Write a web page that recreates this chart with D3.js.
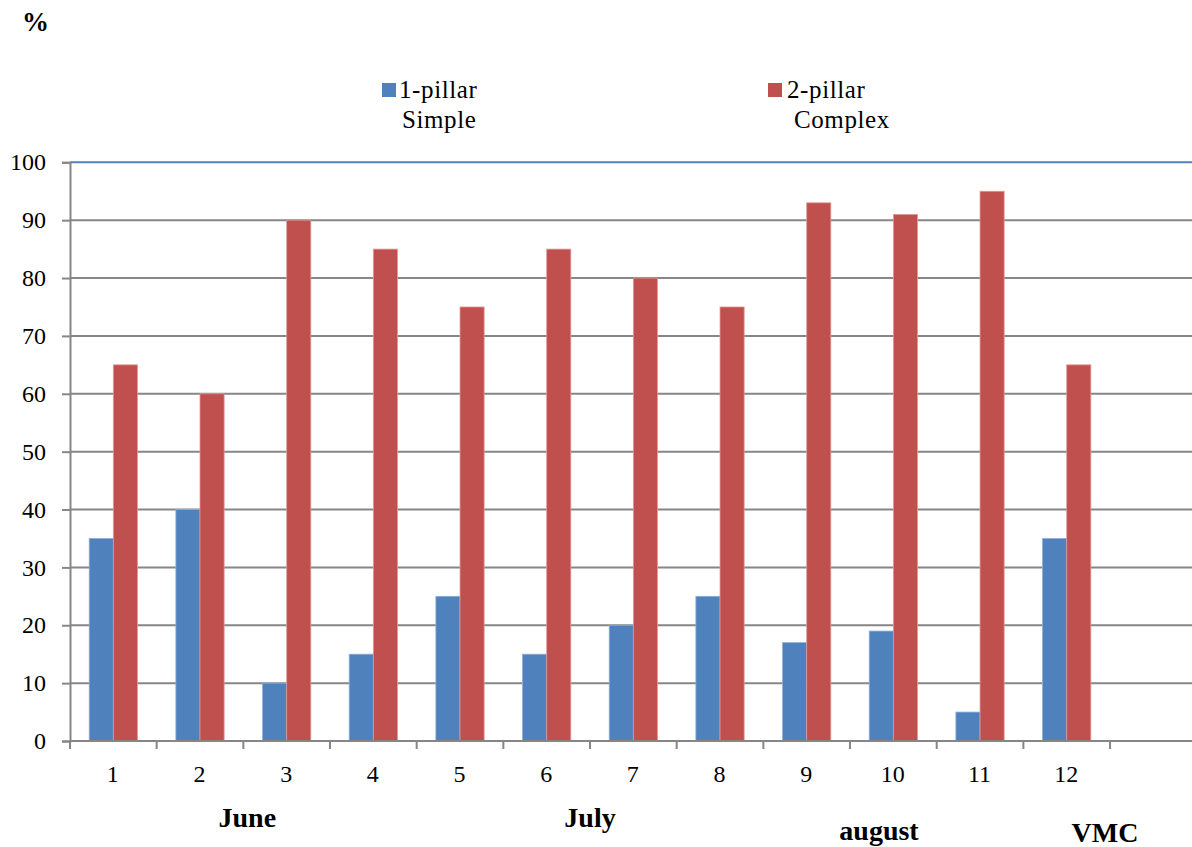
<!DOCTYPE html>
<html>
<head>
<meta charset="utf-8">
<script src="https://cdn.jsdelivr.net/npm/d3@7/dist/d3.min.js"></script>
<style>
  html, body { margin: 0; padding: 0; background: #fff; }
  svg { display: block; }
  text { font-family: "Liberation Serif", "Times New Roman", serif; fill: #000; }
</style>
</head>
<body>
<svg id="chart" width="1192" height="847"></svg>
<script>
// ---- data ----
const categories = ["1", "2", "3", "4", "5", "6", "7", "8", "9", "10", "11", "12", ""];
const simpleValues = [35, 40, 10, 15, 25, 15, 20, 25, 17, 19, 5, 35];
const complexValues = [65, 60, 90, 85, 75, 85, 80, 75, 93, 91, 95, 65];
const seriesNames = ["1-pillar Simple", "2-pillar Complex"];
const yTicks = [0, 10, 20, 30, 40, 50, 60, 70, 80, 90, 100];
const periodLabels = ["June", "July", "august", "VMC"];

// ---- layout ----
const svg = d3.select("#chart");
const plotLeft = 70, plotRight = 70 + 13 * 86.67, plotTop = 162.3, plotBottom = 741;
const colors = { simple: "#4F81BD", complex: "#C0504D" };
const strokes = { simple: "#8FAEDA", complex: "#E09A98" };

const x = d3.scaleBand().domain(categories).range([plotLeft, plotRight]).paddingInner(0).paddingOuter(0);
const xSub = d3.scaleBand().domain(["simple", "complex"])
  .range([19.2, x.bandwidth() - 19.2]).paddingInner(0);
const y = d3.scaleLinear().domain([0, 100]).range([plotBottom, plotTop]);

// gridlines
svg.append("g").selectAll("line").data(yTicks.filter(t => t > 0)).join("line")
  .attr("x1", plotLeft).attr("x2", plotRight)
  .attr("y1", d => y(d)).attr("y2", d => y(d))
  .attr("stroke", d => d === 100 ? "#4F81BD" : "#868686")
  .attr("stroke-width", 2);

// y axis
const yAxis = d3.axisLeft(y).tickValues(yTicks).tickSize(8).tickPadding(16);
const gy = svg.append("g").attr("transform", `translate(${plotLeft},0)`).call(yAxis);
gy.select(".domain").attr("stroke", "#868686").attr("stroke-width", 2);
gy.selectAll(".tick line").attr("stroke", "#868686").attr("stroke-width", 2);
gy.selectAll(".tick text").style("font-family", "Liberation Serif").style("font-size", "24px").attr("fill", "#000");

// bars
const rows = categories.slice(0, 12).map((c, i) => ({ c, simple: simpleValues[i], complex: complexValues[i] }));
const groups = svg.append("g").selectAll("g").data(rows).join("g")
  .attr("transform", d => `translate(${x(d.c)},0)`);
groups.selectAll("rect").data(d => ["simple", "complex"].map(k => ({ k, v: d[k] }))).join("rect")
  .attr("x", d => xSub(d.k))
  .attr("width", xSub.bandwidth())
  .attr("y", d => y(d.v))
  .attr("height", d => y(0) - y(d.v))
  .attr("fill", d => colors[d.k])
  .attr("stroke", d => strokes[d.k])
  .attr("stroke-width", 0.8);

// x axis
svg.append("line").attr("x1", plotLeft).attr("x2", plotRight).attr("y1", y(0)).attr("y2", y(0))
  .attr("stroke", "#868686").attr("stroke-width", 2);
svg.append("g").selectAll("line").data(categories).join("line")
  .attr("x1", d => x(d)).attr("x2", d => x(d))
  .attr("y1", y(0)).attr("y2", y(0) + 8)
  .attr("stroke", "#868686").attr("stroke-width", 2);
svg.append("g").selectAll("text").data(categories.slice(0, 12)).join("text")
  .attr("x", d => x(d) + x.bandwidth() / 2 - 0.5)
  .attr("y", 782)
  .attr("text-anchor", "middle")
  .style("font-size", "24px")
  .text(d => d);

// period labels
const periodPos = [
  { x: x("3") + 4, y: 827 },
  { x: x("7"), y: 827 },
  { x: x("10") + 29, y: 840 },
  { x: x("12") + x.bandwidth() - 5, y: 842 }
];
svg.append("g").selectAll("text").data(periodLabels).join("text")
  .attr("x", (d, i) => periodPos[i].x)
  .attr("y", (d, i) => periodPos[i].y)
  .attr("text-anchor", "middle")
  .style("font-size", "28px").style("font-weight", "bold")
  .text(d => d);

// % label
svg.append("text").attr("x", 22).attr("y", 31)
  .style("font-size", "27px").style("font-weight", "bold").text("%");

// legend
const legendItems = [
  { key: "simple", sx: 382, tx: [399, 402] },
  { key: "complex", sx: 768, tx: [787, 794] }
];
legendItems.forEach((it, i) => {
  const g = svg.append("g");
  g.append("rect").attr("x", it.sx).attr("y", 83).attr("width", 14).attr("height", 14)
    .attr("fill", colors[it.key]);
  const words = seriesNames[i].split(" ");
  g.append("text").attr("x", it.tx[0]).attr("y", 98)
    .style("font-size", "25px").style("letter-spacing", "0.6px").text(words[0]);
  g.append("text").attr("x", it.tx[1]).attr("y", 128)
    .style("font-size", "25px").style("letter-spacing", "0.6px").text(words[1]);
});
</script>
</body>
</html>
